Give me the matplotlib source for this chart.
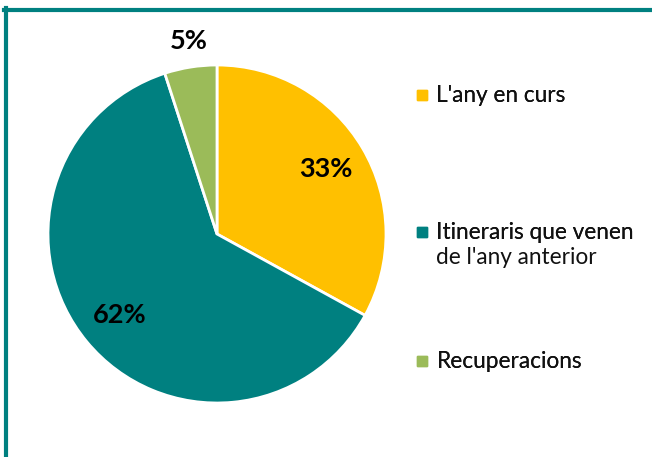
import matplotlib.pyplot as plt
from matplotlib.lines import Line2D

labels = ["L'any en curs", "Itineraris que venen", "Recuperacions"]
label_extra = "de l'any anterior"
values = [33, 62, 5]
colors = ["#FFC000", "#008080", "#9BBB59"]

plt.rcParams['font.family'] = ['Lato', 'DejaVu Sans']

W, H = 652, 457
fig = plt.figure(figsize=(W / 100, H / 100), dpi=100)

# pie axes: centre ~ (217, 234) px, radius ~169 px
cx, cy, r = 217, 234, 169
ax = fig.add_axes([(cx - r) / W, (H - cy - r) / H, 2 * r / W, 2 * r / H])
wedges, texts, autotexts = ax.pie(values, colors=colors, startangle=90, counterclock=False,
                                  autopct='%d%%', pctdistance=0.75,
                                  wedgeprops=dict(edgecolor='white', linewidth=2),
                                  textprops=dict(fontsize=19.5, fontweight='bold', color='black'))
# small slice label sits outside the pie
autotexts[2].set_position((-0.17, 1.14))
ax.set_xlim(-1, 1)
ax.set_ylim(-1, 1)
ax.set_aspect('auto')

# legend entries, spaced like the original
fs = 16.3
ys = [96, 233, 362]
for lab, col, y in zip(labels, colors, ys):
    h = Line2D([], [], marker='s', linestyle='none', markersize=7, color=col)
    leg = fig.legend([h], [lab], loc='center left', bbox_to_anchor=(416.5 / W, 1 - y / H),
                     frameon=False, fontsize=fs, handlelength=0.5, handletextpad=0.38,
                     borderpad=0, borderaxespad=0, labelcolor='#111111')
    fig.add_artist(leg)
fig.text(436 / W, 1 - 257 / H, label_extra, fontsize=fs, color='#111111', va='center', ha='left')

# teal frame (top and left edges only visible)
fig.add_artist(Line2D([4 / W, 1], [1 - 10 / H, 1 - 10 / H], color='#008080', linewidth=3))
fig.add_artist(Line2D([6 / W, 6 / W], [0, 1 - 8 / H], color='#008080', linewidth=3))

fig.savefig('out.png', dpi=100)
